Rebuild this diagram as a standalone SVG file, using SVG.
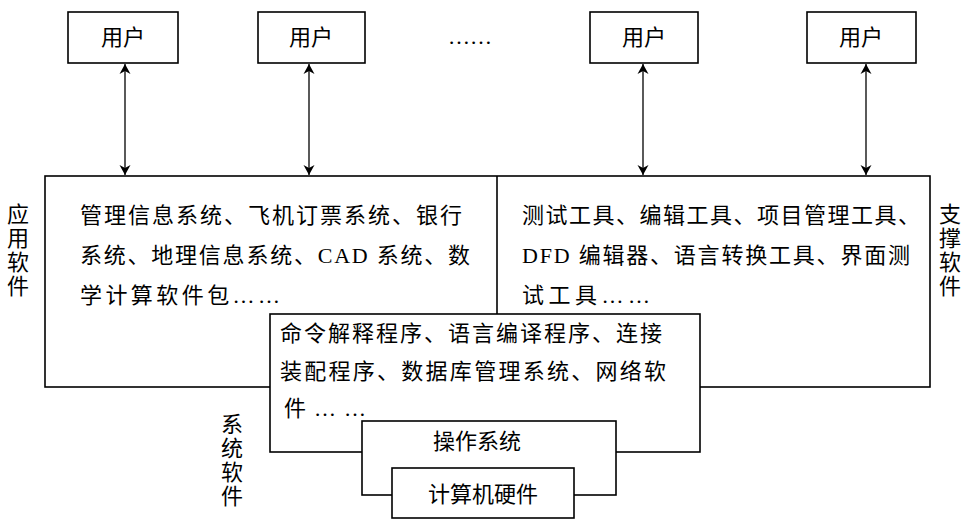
<svg xmlns="http://www.w3.org/2000/svg" width="969" height="529" viewBox="0 0 969 529">
<defs>
<style>
rect{fill:#fff;stroke:#000;stroke-width:1.6}
text{font-family:"Liberation Serif","Noto Sans CJK SC",serif;font-size:22px;fill:#000}
.c{text-anchor:middle}
line{stroke:#000;stroke-width:1.3}
</style>
<marker id="a" viewBox="0 0 10 14" refX="10" refY="7" markerWidth="10" markerHeight="14" orient="auto-start-reverse" markerUnits="userSpaceOnUse"><path d="M0,1.5 L10,7 L0,12.5 L3,7 Z" fill="#000"/></marker>
</defs>
<rect width="969" height="529" style="fill:#fff;stroke:none"/>
<g id="u1"><rect x="68" y="12" width="110" height="51"/><text x="123" y="45" class="c">用户</text></g>
<g id="u2"><rect x="258" y="12" width="107" height="51"/><text x="311" y="45" class="c">用户</text></g>
<g id="dots"><text x="470" y="44" class="c">……</text></g>
<g id="u3"><rect x="590" y="12" width="108" height="51"/><text x="644" y="45" class="c">用户</text></g>
<g id="u4"><rect x="807" y="12" width="109" height="51"/><text x="861" y="45" class="c">用户</text></g>
<g id="connectors">
<line x1="125" y1="64" x2="125" y2="175" marker-start="url(#a)" marker-end="url(#a)"/>
<line x1="309" y1="64" x2="309" y2="175" marker-start="url(#a)" marker-end="url(#a)"/>
<line x1="643" y1="64" x2="643" y2="175" marker-start="url(#a)" marker-end="url(#a)"/>
<line x1="866" y1="64" x2="866" y2="175" marker-start="url(#a)" marker-end="url(#a)"/>
</g>
<g id="outer"><rect x="45" y="176" width="885" height="211"/><line x1="497" y1="176" x2="497" y2="314" style="stroke-width:1.6"/></g>
<g id="app">
<text x="80" y="223" textLength="382" lengthAdjust="spacing">管理信息系统、飞机订票系统、银行</text>
<text x="80" y="263" textLength="390" lengthAdjust="spacing">系统、地理信息系统、CAD 系统、数</text>
<text x="80" y="303" textLength="200" lengthAdjust="spacing">学计算软件包……</text>
<text x="18" y="222" class="c">应</text><text x="18" y="246" class="c">用</text><text x="18" y="270" class="c">软</text><text x="18" y="294" class="c">件</text>
</g>
<g id="support">
<text x="522" y="223" textLength="398" lengthAdjust="spacing">测试工具、编辑工具、项目管理工具、</text>
<text x="522" y="263" textLength="388" lengthAdjust="spacing">DFD 编辑器、语言转换工具、界面测</text>
<text x="522" y="303" textLength="128" lengthAdjust="spacing">试工具……</text>
<text x="950" y="222" class="c">支</text><text x="950" y="246" class="c">撑</text><text x="950" y="270" class="c">软</text><text x="950" y="294" class="c">件</text>
</g>
<g id="sys">
<rect x="270" y="314" width="430" height="138"/>
<text x="280" y="341" textLength="382" lengthAdjust="spacing">命令解释程序、语言编译程序、连接</text>
<text x="280" y="379" textLength="386" lengthAdjust="spacing">装配程序、数据库管理系统、网络软</text>
<text x="284" y="416" textLength="82" lengthAdjust="spacing">件……</text>
<text x="232" y="432" class="c">系</text><text x="232" y="456" class="c">统</text><text x="232" y="480" class="c">软</text><text x="232" y="504" class="c">件</text>
</g>
<g id="os"><rect x="362" y="421" width="254" height="74"/><text x="477" y="449" class="c">操作系统</text></g>
<g id="hw"><rect x="392" y="468" width="182" height="50"/><text x="483" y="502" class="c">计算机硬件</text></g>
</svg>
